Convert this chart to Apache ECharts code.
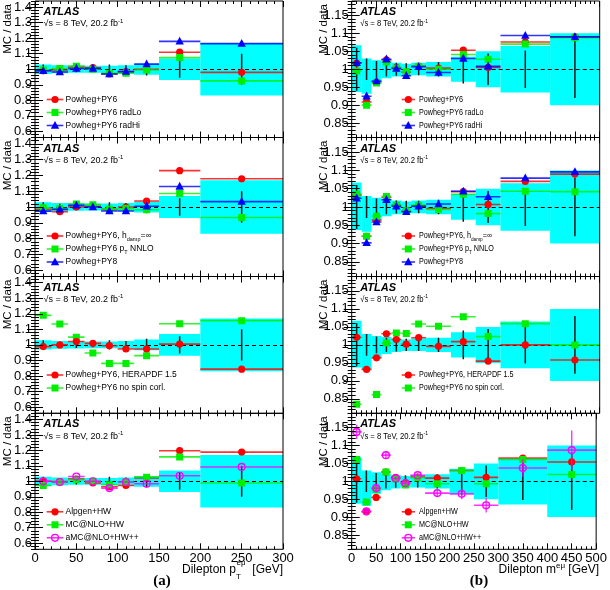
<!DOCTYPE html>
<html><head><meta charset="utf-8">
<script src="https://cdn.jsdelivr.net/npm/echarts@6/dist/echarts.min.js"></script>
<style>html,body{margin:0;padding:0;background:#fff}#c{width:610px;height:590px}</style>
</head><body><div id="c"></div>
<script>
// ---------- bins & ticks ----------
const ptEdges = [0,20,40,60,80,100,120,150,200,300];
const ptCenters = [10,30,50,70,90,110,135,175,250];
const mEdges = [0,20,40,60,80,100,120,150,200,250,300,400,500];
const mCenters = [10,30,50,70,90,110,135,175,225,275,350,450];

const ptXTicks = [0,50,100,150,200,250,300];
const mXTicks = [0,50,100,150,200,250,300,350,400,450,500];
const ptYTicks = [0.6,0.7,0.8,0.9,1,1.1,1.2,1.3,1.4];
const mYTicks = [0.85,0.9,0.95,1,1.05,1.1,1.15];

// ---------- data uncertainty (band + error bars) ----------
const ptBandLow  = [0.970,0.975,0.977,0.978,0.978,0.975,0.965,0.930,0.830];
const ptBandHigh = [1.030,1.025,1.023,1.022,1.022,1.025,1.035,1.070,1.170];
const ptDataErr  = [0.030,0.020,0.020,0.015,0.030,0.025,0.040,0.055,0.100];

const mBandLow  = [0.937,0.932,0.965,0.975,0.980,0.983,0.983,0.980,0.965,0.950,0.935,0.900];
const mBandHigh = [1.067,1.030,1.025,1.022,1.018,1.015,1.018,1.020,1.035,1.050,1.065,1.100];
const mDataErr  = [0.060,0.030,0.023,0.020,0.018,0.017,0.017,0.020,0.040,0.044,0.052,0.080];

// ---------- (a) dilepton pT ----------
const ptP1_PY6    = [0.990,0.995,1.015,1.010,0.970,0.985,1.000,1.110,0.980];
const ptP1_radLo  = [0.995,1.005,1.020,1.000,0.975,0.975,0.995,1.075,0.925];
const ptP1_radHi  = [0.990,0.982,1.005,1.005,0.969,0.985,1.033,1.180,1.165];

const ptP2_hdamp  = [0.985,0.970,1.000,1.005,0.985,1.000,1.038,1.230,1.179];
const ptP2_nnlo   = [0.995,0.990,1.019,1.015,0.985,0.990,0.983,1.085,0.934];
const ptP2_py8    = [0.974,0.985,1.010,1.000,0.975,0.975,1.005,1.130,1.034];

const ptP3_hera   = [0.989,1.000,1.022,1.010,0.995,0.974,0.974,1.005,0.844];
const ptP3_nospin = [1.190,1.134,1.050,0.948,0.881,0.881,0.931,1.136,1.156];

const ptP4_alpgen = [1.000,0.998,1.015,0.989,0.965,0.973,1.022,1.198,1.189];
const ptP4_mcnlo  = [0.973,0.995,1.010,1.000,0.978,0.995,1.027,1.158,0.989];
const ptP4_amcnlo = [1.000,0.995,1.031,1.000,0.956,0.995,0.984,1.036,1.093];

// ---------- (b) dilepton mass ----------
const mP1_PY6    = [1.017,0.909,0.964,1.026,1.005,0.992,1.009,1.003,1.053,1.005,1.076,1.090];
const mP1_radLo  = [0.995,0.900,0.962,1.020,1.003,0.993,1.008,1.000,1.041,1.028,1.070,1.088];
const mP1_radHi  = [1.018,0.925,0.967,1.028,1.002,0.982,1.007,0.991,1.030,1.008,1.094,1.090];

const mP2_hdamp  = [1.033,0.920,0.964,1.026,1.005,0.989,1.003,0.996,1.042,1.007,1.070,1.090];
const mP2_nnlo   = [1.035,0.920,0.975,1.029,1.005,0.990,1.005,0.993,1.035,0.982,1.043,1.042];
const mP2_py8    = [1.024,0.902,0.959,1.020,1.002,0.987,1.002,1.008,1.043,1.028,1.079,1.096];

const mP3_hera   = [1.021,0.932,0.964,1.031,1.015,1.002,1.020,0.996,1.009,0.955,1.000,0.958];
const mP3_nospin = [0.835,null,0.862,1.005,1.033,1.032,1.058,1.052,1.078,1.023,1.059,1.000];

const mP4_alpgen = [1.007,0.915,0.955,1.026,1.011,0.995,1.012,1.009,1.030,1.011,1.065,1.054];
const mP4_mcnlo  = [1.061,0.942,0.977,1.026,1.007,0.990,1.010,0.993,1.030,0.993,1.061,1.019];
const mP4_amcnlo = [1.138,0.916,0.981,1.073,1.008,0.995,1.017,0.967,0.965,0.933,1.037,1.087];
const mP4_amcnloErr = [0.020,0.010,0.010,0.010,0.005,0.005,0.005,0.010,0.015,0.020,0.025,0.055];

// ---------- styling / layout ----------
const RED='#ff0000', GREEN='#00ee00', BLUE='#0000ff', MAG='#ff00ff';
const colLeft = [35, 351.7], colWidth = 248;
const rowTop = [1, 137.5, 276.5, 413.3], rowH = [136.5, 139, 136.8, 136];
const FONT = '"Liberation Sans", Arial, sans-serif';

const panels = [
 {col:0,row:0, s:[['Powheg+PY6',ptP1_PY6,RED,'circle'],['Powheg+PY6 radLo',ptP1_radLo,GREEN,'square'],['Powheg+PY6 radHi',ptP1_radHi,BLUE,'triangle']]},
 {col:0,row:1, s:[['Powheg+PY6, h{sub|damp}=∞',ptP2_hdamp,RED,'circle'],['Powheg+PY6 p{sub|T} NNLO',ptP2_nnlo,GREEN,'square'],['Powheg+PY8',ptP2_py8,BLUE,'triangle']]},
 {col:0,row:2, s:[['Powheg+PY6, HERAPDF 1.5',ptP3_hera,RED,'circle'],['Powheg+PY6 no spin corl.',ptP3_nospin,GREEN,'square']], order:[1,0]},
 {col:0,row:3, s:[['Alpgen+HW',ptP4_alpgen,RED,'circle'],['MC@NLO+HW',ptP4_mcnlo,GREEN,'square'],['aMC@NLO+HW++',ptP4_amcnlo,MAG,'ocircle']]},
 {col:1,row:0, s:[['Powheg+PY6',mP1_PY6,RED,'circle'],['Powheg+PY6 radLo',mP1_radLo,GREEN,'square'],['Powheg+PY6 radHi',mP1_radHi,BLUE,'triangle']]},
 {col:1,row:1, s:[['Powheg+PY6, h{sub|damp}=∞',mP2_hdamp,RED,'circle'],['Powheg+PY6 p{sub|T} NNLO',mP2_nnlo,GREEN,'square'],['Powheg+PY8',mP2_py8,BLUE,'triangle']]},
 {col:1,row:2, s:[['Powheg+PY6, HERAPDF 1.5',mP3_hera,RED,'circle'],['Powheg+PY6 no spin corl.',mP3_nospin,GREEN,'square']], order:[1,0]},
 {col:1,row:3, s:[['Alpgen+HW',mP4_alpgen,RED,'circle'],['MC@NLO+HW',mP4_mcnlo,GREEN,'square'],['aMC@NLO+HW++',mP4_amcnlo,MAG,'ocircle',mP4_amcnloErr]]}
];

function range(a,b,st){const r=[];for(let v=a;v<=b+1e-9;v+=st)r.push(+v.toFixed(4));return r;}
function minorOf(all, major){return all.filter(v=>!major.some(m=>Math.abs(m-v)<1e-6));}

function marker(kind,x,y,color){
  if(kind==='circle') return {type:'circle',shape:{cx:x,cy:y,r:3.6},style:{fill:color}};
  if(kind==='ocircle') return {type:'circle',shape:{cx:x,cy:y,r:3.4},style:{fill:'none',stroke:color,lineWidth:1.4}};
  if(kind==='square') return {type:'rect',shape:{x:x-3.5,y:y-3.5,width:7,height:7},style:{fill:color}};
  return {type:'polygon',shape:{points:[[x,y-4.6],[x-4.2,y+3.2],[x+4.2,y+3.2]]},style:{fill:color}};
}

const grid=[], xAxis=[], yAxis=[], series=[], graphic=[];

panels.forEach((p,g)=>{
  const c=p.col, r=p.row, isM = c===1;
  const left=colLeft[c], top=rowTop[r], h=rowH[r];
  const xmax = isM?500:300, ymin = isM?0.81:0.56, ymax = isM?1.19:1.44;
  const xMaj = isM?mXTicks:ptXTicks, yMaj = isM?mYTicks:ptYTicks;
  const xMin = minorOf(range(0,xmax,10), xMaj);
  const yMin = isM ? minorOf(range(0.81,1.19,0.01), yMaj) : minorOf(range(0.56,1.44,0.02), yMaj);
  const edges = isM?mEdges:ptEdges, centers = isM?mCenters:ptCenters;

  grid.push({left:left, top:top, width:colWidth, height:h, show:true, borderColor:'#000', borderWidth:1, backgroundColor:'transparent', z:10});

  const xi = xAxis.length, yi = yAxis.length;
  const xBase = {gridIndex:g,type:'value',min:0,max:xmax,axisLine:{show:false},splitLine:{show:false},z:10};
  xAxis.push(Object.assign({},xBase,{position:'bottom',
     axisTick:{show:true,inside:true,length:6,customValues:xMaj,lineStyle:{color:'#000',width:1}},
     axisLabel:{show:r===3,customValues:xMaj,margin:3,color:'#000',fontSize:13,fontFamily:FONT,showMinLabel:true,showMaxLabel:true}}));
  xAxis.push(Object.assign({},xBase,{position:'bottom',axisLabel:{show:false},
     axisTick:{show:true,inside:true,length:3,customValues:xMin,lineStyle:{color:'#000',width:1}}}));
  xAxis.push(Object.assign({},xBase,{position:'top',axisLabel:{show:false},
     axisTick:{show:true,inside:true,length:6,customValues:xMaj,lineStyle:{color:'#000',width:1}}}));
  xAxis.push(Object.assign({},xBase,{position:'top',axisLabel:{show:false},
     axisTick:{show:true,inside:true,length:3,customValues:xMin,lineStyle:{color:'#000',width:1}}}));

  const yBase = {gridIndex:g,type:'value',min:ymin,max:ymax,axisLine:{show:false},splitLine:{show:false},z:10};
  yAxis.push(Object.assign({},yBase,{position:'left',
     axisTick:{show:true,inside:true,length:8,customValues:yMaj,lineStyle:{color:'#000',width:1}},
     axisLabel:{show:true,customValues:yMaj,margin:3,color:'#000',fontSize:13,fontFamily:FONT,
        formatter:v=>String(+(+v).toFixed(2))}}));
  yAxis.push(Object.assign({},yBase,{position:'left',axisLabel:{show:false},
     axisTick:{show:true,inside:true,length:4,customValues:yMin,lineStyle:{color:'#000',width:1}}}));
  yAxis.push(Object.assign({},yBase,{position:'right',axisLabel:{show:false},
     axisTick:{show:true,inside:true,length:8,customValues:yMaj,lineStyle:{color:'#000',width:1}}}));
  yAxis.push(Object.assign({},yBase,{position:'right',axisLabel:{show:false},
     axisTick:{show:true,inside:true,length:4,customValues:yMin,lineStyle:{color:'#000',width:1}}}));

  // band
  const bLow = isM?mBandLow:ptBandLow, bHigh = isM?mBandHigh:ptBandHigh, dErr = isM?mDataErr:ptDataErr;
  series.push({type:'custom', xAxisIndex:xi, yAxisIndex:yi, clip:true, z:2, silent:true,
    data: centers.map((cc,i)=>[edges[i],edges[i+1],bLow[i],bHigh[i]]),
    renderItem:(params,api)=>{
      const a=api.coord([api.value(0),api.value(3)]), b=api.coord([api.value(1),api.value(2)]);
      return {type:'rect',shape:{x:a[0],y:a[1],width:b[0]-a[0],height:b[1]-a[1]},style:{fill:'#00ffff'}};
    }});
  // data error bars + dashed line at 1
  series.push({type:'custom', xAxisIndex:xi, yAxisIndex:yi, clip:true, z:3, silent:true,
    data: centers.map((cc,i)=>[cc,dErr[i]]),
    renderItem:(params,api)=>{
      const cx=api.value(0), e=api.value(1);
      const a=api.coord([cx,1+e]), b=api.coord([cx,1-e]);
      return {type:'line',shape:{x1:a[0],y1:a[1],x2:b[0],y2:b[1]},style:{stroke:'#0a1a1a',lineWidth:1.5}};
    },
    markLine:{silent:true,symbol:['none','none'],label:{show:false},
      lineStyle:{color:'#000',type:[4,3],width:1.2},data:[{yAxis:1}]}});

  // MC series
  const order = p.order || p.s.map((_,i)=>i);
  order.forEach(k=>{
    const [name,vals,color,kind,errs] = p.s[k];
    const data=[];
    vals.forEach((v,i)=>{ if(v!==null) data.push([centers[i],v,edges[i],edges[i+1],errs?errs[i]:0]); });
    series.push({type:'custom', name:name.replace(/\{sub\|([^}]*)\}/g,'$1'), xAxisIndex:xi, yAxisIndex:yi, clip:true, z:5, silent:true,
      data:data,
      renderItem:(params,api)=>{
        const cx=api.value(0), y=api.value(1), lo=api.value(2), hi=api.value(3), e=api.value(4);
        const a=api.coord([lo,y]), b=api.coord([hi,y]), m=api.coord([cx,y]);
        const ch=[{type:'line',shape:{x1:a[0],y1:a[1],x2:b[0],y2:b[1]},style:{stroke:color,lineWidth:1.6,opacity:0.8}}];
        if(e>0){const t=api.coord([cx,y+e]),bt=api.coord([cx,y-e]);
          ch.push({type:'line',shape:{x1:t[0],y1:t[1],x2:bt[0],y2:bt[1]},style:{stroke:color,lineWidth:1.4,opacity:0.8}});}
        ch.push(marker(kind,m[0],m[1],color));
        return {type:'group',children:ch};
      }});
  });

  // panel texts
  const sx = isM?0.85:1;
  graphic.push({type:'text',x:left+8.5,y:top+11,z:20,style:{text:'ATLAS',font:'italic bold 11px '+FONT,fill:'#000',verticalAlign:'middle'}});
  graphic.push({type:'text',x:left+8.5,y:top+23,z:20,scaleX:sx,originX:0,originY:0,
     style:{text:'√s = 8 TeV, 20.2 fb{sup|-1}',font:'9px '+FONT,fill:'#000',verticalAlign:'middle',lineHeight:12,
       rich:{sup:{fontSize:6,fontFamily:FONT,lineHeight:6,verticalAlign:'top'}}}});
  graphic.push({type:'text',x:isM?324:7.5,y:top+3,rotation:Math.PI/2,z:20,
     style:{text:'MC / data',font:'11.5px '+FONT,fill:'#000',align:'right',verticalAlign:'middle'}});
  // legend
  const lx0 = isM?401.7:46.7, lx1 = isM?415:63.3, lm = isM?408.3:55, lt = isM?419:65.5;
  p.s.forEach((s,k)=>{
    const y = top + 98.5 + 13*k;
    graphic.push({type:'line',z:20,shape:{x1:lx0,y1:y,x2:lx1,y2:y},style:{stroke:s[2],lineWidth:1.6,opacity:0.8}});
    const mk = marker(s[3],lm,y,s[2]); mk.z=21; graphic.push(mk);
    graphic.push({type:'text',x:lt,y:y,z:20,scaleX:sx,originX:0,originY:0,
      style:{text:s[0],font:'8.5px '+FONT,fill:'#000',verticalAlign:'middle',lineHeight:12,
        rich:{sub:{fontSize:5.5,fontFamily:FONT,lineHeight:6,verticalAlign:'bottom'}}}});
  });
});

// axis titles and captions
graphic.push({type:'text',x:236,y:570,z:20,style:{text:'Dilepton p',font:'12px '+FONT,fill:'#000',align:'right',verticalAlign:'middle'}});
graphic.push({type:'text',x:236.5,y:563,z:20,style:{text:'eμ',font:'8px '+FONT,fill:'#000',align:'left',verticalAlign:'middle'}});
graphic.push({type:'text',x:236,y:577,z:20,style:{text:'T',font:'8px '+FONT,fill:'#000',align:'left',verticalAlign:'middle'}});
graphic.push({type:'text',x:283,y:570,z:20,style:{text:'[GeV]',font:'12px '+FONT,fill:'#000',align:'right',verticalAlign:'middle'}});
graphic.push({type:'text',x:599,y:570,z:20,style:{text:'Dilepton m{sup|eμ} [GeV]',font:'12px '+FONT,fill:'#000',align:'right',verticalAlign:'middle',lineHeight:16,
   rich:{sup:{fontSize:8,fontFamily:FONT,lineHeight:8,verticalAlign:'top'}}}});
graphic.push({type:'text',x:162,y:581,z:20,style:{text:'(a)',font:'bold 15px "Liberation Serif", "Times New Roman", serif',fill:'#000',align:'center',verticalAlign:'middle'}});
graphic.push({type:'text',x:479,y:581,z:20,style:{text:'(b)',font:'bold 15px "Liberation Serif", "Times New Roman", serif',fill:'#000',align:'center',verticalAlign:'middle'}});

const chart = echarts.init(document.getElementById('c'));
chart.setOption({animation:false, backgroundColor:'#fff', grid, xAxis, yAxis, series, graphic});
</script></body></html>
